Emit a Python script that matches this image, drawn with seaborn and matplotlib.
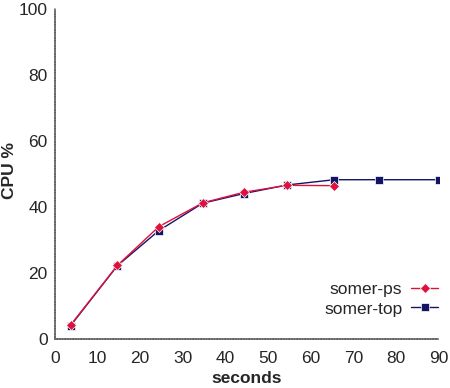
import matplotlib
matplotlib.use("Agg")
import matplotlib.pyplot as plt
import seaborn as sns
import pandas as pd

ps_x = [3.7, 14.7, 24.4, 34.7, 44.3, 54.4, 65.5]
ps_y = [4.2, 22.3, 34.0, 41.2, 44.4, 46.5, 46.4]
top_x = [3.7, 14.7, 24.4, 34.7, 44.3, 54.4, 65.5, 75.9, 90.0]
top_y = [4.0, 22.2, 32.8, 41.1, 44.0, 46.6, 48.2, 48.2, 48.2]
series_names = ["somer-ps", "somer-top"]
x_ticks = [0, 10, 20, 30, 40, 50, 60, 70, 80, 90]
y_ticks = [0, 20, 40, 60, 80, 100]

sns.set_style("white")
plt.rcParams['font.family'] = ['Liberation Sans', 'DejaVu Sans']

df = pd.concat([
    pd.DataFrame({"seconds": top_x, "cpu": top_y, "series": series_names[1]}),
    pd.DataFrame({"seconds": ps_x, "cpu": ps_y, "series": series_names[0]}),
])

fig = plt.figure(figsize=(4.5, 3.88), dpi=100)
ax = fig.add_axes([0.1216, 0.1263, 0.975 - 0.1216, 0.978 - 0.1263])

palette = {series_names[0]: "#e0103c", series_names[1]: "#141466"}
markers = {series_names[0]: "D", series_names[1]: "s"}
sns.lineplot(data=df, x="seconds", y="cpu", hue="series", style="series",
             palette=palette, markers=markers, dashes=False, ax=ax,
             linewidth=1.0, markersize=5.5, markeredgewidth=0.5, sort=False,
             hue_order=series_names[::-1], style_order=series_names[::-1])

ax.set_xlim(0, 90)
ax.set_ylim(0, 100)
ax.set_xticks(x_ticks)
ax.set_yticks(y_ticks)
ax.tick_params(direction="in", length=5, width=0.8, color="#555555",
               labelsize=12.5)
ax.tick_params(axis="x", pad=9)
ax.tick_params(axis="y", pad=5)
for s in ["top", "right"]:
    ax.spines[s].set_visible(False)
for s in ["left", "bottom"]:
    ax.spines[s].set_color("#666666")
    ax.spines[s].set_linestyle((0, (1, 0.6)))
    ax.spines[s].set_linewidth(1.2)

ax.set_xlabel("seconds", fontsize=12.5, fontweight="bold", labelpad=3)
ax.set_ylabel("CPU %", fontsize=12.5, fontweight="bold")
ax.yaxis.set_label_coords(-0.098, 0.51)

handles, labels = ax.get_legend_handles_labels()
order = [labels.index(n) for n in series_names]
ax.legend([handles[i] for i in order], [labels[i] for i in order],
          loc="lower right", bbox_to_anchor=(0.998, 0.068), frameon=False,
          markerfirst=False, fontsize=12.5, handlelength=1.55,
          handletextpad=0.5, labelspacing=0.27, borderaxespad=0.0,
          borderpad=0.0)

fig.savefig("out.png", dpi=100)
